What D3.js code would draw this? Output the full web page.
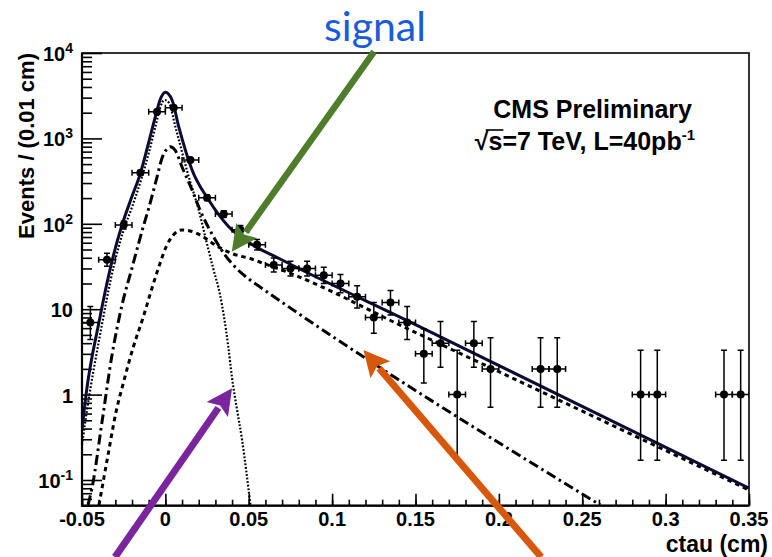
<!DOCTYPE html>
<html>
<head>
<meta charset="utf-8">
<script src="https://cdn.jsdelivr.net/npm/d3@7"></script>
<style>
  html, body { margin: 0; padding: 0; background: #fff; }
  svg { display: block; }
  .lbl { font-family: "Liberation Sans", Arial, Helvetica, sans-serif; font-weight: bold; fill: #000; }
</style>
</head>
<body>
<svg id="chart" width="772" height="557"></svg>
<script>
// ---- binned data: ctau bin centres (cm), event counts, asymmetric Poisson errors ----
const binCenters = [-0.045, -0.035, -0.025, -0.015, -0.005, 0.005, 0.015, 0.025, 0.035, 0.045,
                    0.055, 0.065, 0.075, 0.085, 0.095, 0.105, 0.115, 0.125, 0.135, 0.145,
                    0.155, 0.165, 0.175, 0.185, 0.195, 0.225, 0.235, 0.285, 0.295, 0.335, 0.345];
const binCounts  = [7, 38, 97, 396, 2054, 2288, 559, 202, 130, 85,
                    57, 33, 30, 30, 25, 20, 14, 8, 12, 7,
                    3, 4, 1, 4, 2, 2, 2, 1, 1, 1, 1];
const errLow     = [2.58, 6.13, 9.83, 19.9, 45.3, 47.8, 23.6, 14.2, 11.4, 9.2,
                    7.5, 5.72, 5.45, 5.45, 4.97, 4.43, 3.70, 2.77, 3.42, 2.58,
                    1.63, 1.91, 0.83, 1.91, 1.29, 1.29, 1.29, 0.83, 0.83, 0.83, 0.83];
const errHigh    = [3.77, 7.20, 10.87, 20.9, 46.3, 48.8, 24.6, 15.2, 12.4, 10.2,
                    8.6, 6.83, 6.55, 6.55, 6.07, 5.55, 4.83, 3.95, 4.56, 3.77,
                    2.92, 3.16, 2.30, 3.16, 2.64, 2.64, 2.64, 2.30, 2.30, 2.30, 2.30];
const binHalfWidth = 0.005;

// ---- fit curves: [ctau, events per 0.01 cm] ----
const totalFit = [[-0.05, 0.385], [-0.0476, 0.99], [-0.0398, 7.08], [-0.0311, 43.1], [-0.026, 96.8],
                  [-0.0206, 195], [-0.015, 390], [-0.0104, 837], [-0.006, 1795], [-0.0032, 2817],
                  [0, 3467], [0.004, 2817], [0.008, 1371], [0.016, 427], [0.026, 190],
                  [0.038, 92.5], [0.0508, 59.1], [0.0688, 38.7], [0.15, 6.6], [0.35, 0.080]];
const promptFit = [[-0.05, 0.257], [-0.047, 0.66], [-0.0392, 4.99], [-0.0308, 33], [-0.0254, 80],
                   [-0.02, 157], [-0.0146, 326], [-0.0098, 693], [-0.0056, 1475], [-0.0032, 2270],
                   [-0.0005, 2818], [0.0022, 2600], [0.006, 1370], [0.014, 356], [0.02, 145],
                   [0.0244, 64.6], [0.0286, 30.4], [0.0328, 14.7], [0.0376, 3.81], [0.04, 1.56],
                   [0.043, 0.66], [0.046, 0.294], [0.051, 0.051]];
const backgroundFit = [[-0.0464, 0.051], [-0.044, 0.0806], [-0.038, 0.478], [-0.032, 2.91], [-0.026, 11.2],
                       [-0.02, 30.4], [-0.014, 82.4], [-0.0098, 157], [-0.005, 353], [-0.002, 589],
                       [0.0004, 731], [0.003, 800], [0.0058, 731], [0.01, 462], [0.016, 249],
                       [0.0208, 145], [0.0286, 72], [0.0358, 43.1], [0.043, 29.6], [0.0508, 22.0],
                       [0.0568, 18.2], [0.2608, 0.051]];
const signalFit = [[-0.0398, 0.051], [-0.0344, 0.196], [-0.0296, 0.625], [-0.0252, 1.37], [-0.0194, 3.52],
                   [-0.0132, 8.17], [-0.008, 17.7], [-0.0032, 34.5], [0.0004, 53.5], [0.0048, 74],
                   [0.0098, 84.6], [0.0148, 82.4], [0.0208, 74], [0.0308, 55], [0.0408, 44.3],
                   [0.0508, 39.2], [0.0598, 33.8], [0.0706, 28.4], [0.1468, 5.71], [0.3502, 0.076]];

// ---- axis ticks and labels ----
const xTickValues = [-0.05, 0, 0.05, 0.1, 0.15, 0.2, 0.25, 0.3, 0.35];
const xTickLabels = ["-0.05", "0", "0.05", "0.1", "0.15", "0.2", "0.25", "0.3", "0.35"];
const yTickValues = [0.1, 1, 10, 100, 1000, 10000];
const yTickMantissa = ["10", "1", "10", "10", "10", "10"];
const yTickExponent = ["-1", "", "", "2", "3", "4"];

// ---- annotation arrows (data coordinates: tail -> tip) ----
const arrows = [
  { color: "#4f7d2b", width: 6.5, tail: [0.1252, 10400], tip: [0.0398, 47.1] },
  { color: "#7a259e", width: 7,   tail: [-0.0302, 0.0125], tip: [0.0400, 1.19] },
  { color: "#d8580b", width: 7,   tail: [0.2254, 0.0125], tip: [0.1188, 3.33] }
];

const plot = { left: 82, top: 53, right: 749, bottom: 505.7 };
const x = d3.scaleLinear().domain([-0.05, 0.35]).range([plot.left, plot.right]);
const y = d3.scaleLog().domain([0.05, 1e4]).range([plot.bottom, plot.top]);

const svg = d3.select("#chart");

svg.append("defs").append("clipPath").attr("id", "plotClip")
  .append("rect")
  .attr("x", plot.left).attr("y", plot.top)
  .attr("width", plot.right - plot.left).attr("height", plot.bottom - plot.top);

// ---- ticks (ROOT style, pointing inside the frame) ----
function styleAxis(g) {
  g.select(".domain").remove();
  g.selectAll(".tick line").attr("stroke", "#000").attr("stroke-width", 1.6);
  g.selectAll(".tick text").remove();
}
const xMinor = d3.range(-5, 36).map(i => i / 100);
svg.append("g").attr("transform", `translate(0,${plot.bottom})`)
  .call(d3.axisBottom(x).tickValues(xMinor).tickSize(-6).tickFormat(""))
  .call(styleAxis);
svg.append("g").attr("transform", `translate(0,${plot.bottom})`)
  .call(d3.axisBottom(x).tickValues(xTickValues).tickSize(-12).tickFormat(""))
  .call(styleAxis);

const yMinor = [];
for (let k = -2; k <= 3; k++) for (let m = 2; m <= 9; m++) {
  const v = m * Math.pow(10, k);
  if (v >= 0.05 && v <= 1e4) yMinor.push(v);
}
svg.append("g").attr("transform", `translate(${plot.left},0)`)
  .call(d3.axisLeft(y).tickValues(yMinor).tickSize(-10).tickFormat(""))
  .call(styleAxis);
svg.append("g").attr("transform", `translate(${plot.left},0)`)
  .call(d3.axisLeft(y).tickValues(yTickValues).tickSize(-20).tickFormat(""))
  .call(styleAxis);

// frame: heavier on the axis sides
svg.append("rect")
  .attr("x", plot.left).attr("y", plot.top)
  .attr("width", plot.right - plot.left).attr("height", plot.bottom - plot.top)
  .attr("fill", "none").attr("stroke", "#000").attr("stroke-width", 1.6);
svg.append("path")
  .attr("d", `M${plot.left},${plot.top} V${plot.bottom} H${plot.right}`)
  .attr("fill", "none").attr("stroke", "#000").attr("stroke-width", 2.2);

// tick labels
svg.append("g").selectAll("text").data(xTickValues).join("text")
  .attr("class", "lbl")
  .attr("x", d => x(d)).attr("y", 526)
  .attr("text-anchor", "middle").attr("font-size", 20)
  .text((d, i) => xTickLabels[i]);

const yLab = svg.append("g").selectAll("text").data(yTickValues).join("text")
  .attr("class", "lbl")
  .attr("x", 73).attr("y", d => y(d) + 8)
  .attr("text-anchor", "end").attr("font-size", 20);
yLab.append("tspan").text((d, i) => yTickMantissa[i]);
yLab.append("tspan").attr("dy", -8).attr("font-size", 14).text((d, i) => yTickExponent[i]);

// axis titles
svg.append("text").attr("class", "lbl")
  .attr("transform", `translate(34,${plot.top}) rotate(-90)`)
  .attr("text-anchor", "end").attr("font-size", 22)
  .text("Events / (0.01 cm)");
svg.append("text").attr("class", "lbl")
  .attr("x", 768).attr("y", 552)
  .attr("text-anchor", "end").attr("font-size", 23)
  .text("ctau (cm)");

// ---- fit curves ----
const line = d3.line().x(d => x(d[0])).y(d => y(d[1])).curve(d3.curveMonotoneX);
const curves = svg.append("g").attr("clip-path", "url(#plotClip)").attr("fill", "none");
curves.append("path").datum(promptFit).attr("d", line)
  .attr("stroke", "#000").attr("stroke-width", 2.2).attr("stroke-dasharray", "1.8,1.8");
curves.append("path").datum(backgroundFit).attr("d", line)
  .attr("stroke", "#000").attr("stroke-width", 3).attr("stroke-dasharray", "10,4,2.5,4");
curves.append("path").datum(signalFit).attr("d", line)
  .attr("stroke", "#000").attr("stroke-width", 3).attr("stroke-dasharray", "4.5,4");
curves.append("path").datum(totalFit).attr("d", line)
  .attr("stroke", "#0b0b33").attr("stroke-width", 3);

// ---- data points with error bars ----
const pts = svg.append("g").attr("clip-path", "url(#plotClip)")
  .selectAll("g").data(binCenters.map((c, i) => ({ c, n: binCounts[i], lo: errLow[i], hi: errHigh[i] })))
  .join("g").attr("stroke", "#000").attr("stroke-width", 1.5);
pts.append("line")
  .attr("x1", d => x(d.c)).attr("x2", d => x(d.c))
  .attr("y1", d => y(Math.max(d.n - d.lo, 0.01))).attr("y2", d => y(d.n + d.hi));
pts.append("line")
  .attr("x1", d => x(d.c - binHalfWidth)).attr("x2", d => x(d.c + binHalfWidth))
  .attr("y1", d => y(d.n)).attr("y2", d => y(d.n));
pts.append("line")
  .attr("x1", d => x(d.c) - 3).attr("x2", d => x(d.c) + 3)
  .attr("y1", d => y(d.n + d.hi)).attr("y2", d => y(d.n + d.hi));
pts.append("line")
  .attr("x1", d => x(d.c) - 3).attr("x2", d => x(d.c) + 3)
  .attr("y1", d => y(Math.max(d.n - d.lo, 0.01))).attr("y2", d => y(Math.max(d.n - d.lo, 0.01)));
pts.append("line")
  .attr("x1", d => x(d.c - binHalfWidth)).attr("x2", d => x(d.c - binHalfWidth))
  .attr("y1", d => y(d.n) - 3).attr("y2", d => y(d.n) + 3);
pts.append("line")
  .attr("x1", d => x(d.c + binHalfWidth)).attr("x2", d => x(d.c + binHalfWidth))
  .attr("y1", d => y(d.n) - 3).attr("y2", d => y(d.n) + 3);
pts.append("circle")
  .attr("cx", d => x(d.c)).attr("cy", d => y(d.n)).attr("r", 4)
  .attr("fill", "#000").attr("stroke", "none");

// ---- CMS label ----
svg.append("text").attr("class", "lbl")
  .attr("x", 692).attr("y", 118).attr("text-anchor", "end").attr("font-size", 25)
  .text("CMS Preliminary");
const lumi = svg.append("text").attr("class", "lbl")
  .attr("x", 695).attr("y", 150).attr("text-anchor", "end").attr("font-size", 25);
lumi.append("tspan").text("\u221As=7 TeV, L=40pb");
lumi.append("tspan").attr("dy", -10).attr("font-size", 15).text("-1");
{
  const node = lumi.node();
  const sx1 = node.getEndPositionOfChar(1).x;
  const rx = node.getStartPositionOfChar(0).x;
  svg.append("line")
    .attr("x1", rx + 11).attr("x2", sx1 + 1)
    .attr("y1", 150 - 20).attr("y2", 150 - 20)
    .attr("stroke", "#000").attr("stroke-width", 1.6);
}

// ---- annotations ----
svg.append("text")
  .attr("x", 375).attr("y", 41).attr("text-anchor", "middle")
  .attr("font-family", "Lato, 'Open Sans', sans-serif").attr("font-size", 41)
  .attr("fill", "#1b5bd8")
  .text("signal");

arrows.forEach(a => {
  const t0 = [x(a.tail[0]), y(a.tail[1])];
  const t1 = [x(a.tip[0]), y(a.tip[1])];
  const dx = t1[0] - t0[0], dy = t1[1] - t0[1];
  const len = Math.hypot(dx, dy);
  const ux = dx / len, uy = dy / len;
  const headLen = 26, headHalf = 13;
  const bx = t1[0] - ux * headLen, by = t1[1] - uy * headLen;
  svg.append("line")
    .attr("x1", t0[0]).attr("y1", t0[1])
    .attr("x2", bx + ux * 2).attr("y2", by + uy * 2)
    .attr("stroke", a.color).attr("stroke-width", a.width);
  svg.append("path")
    .attr("d", `M${t1[0]},${t1[1]} L${bx - uy * headHalf},${by + ux * headHalf} L${bx + ux * 5},${by + uy * 5} L${bx + uy * headHalf},${by - ux * headHalf} Z`)
    .attr("fill", a.color);
});
</script>
</body>
</html>
